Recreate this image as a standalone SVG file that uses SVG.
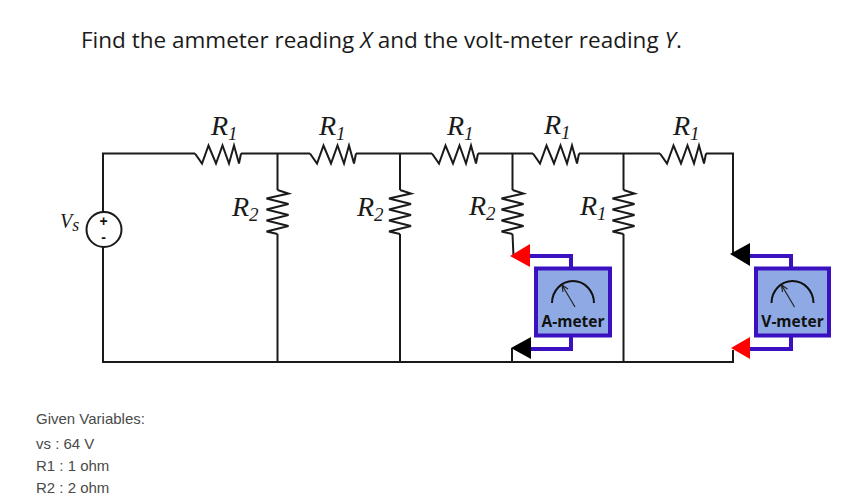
<svg xmlns="http://www.w3.org/2000/svg" xmlns:xlink="http://www.w3.org/1999/xlink" width="859" height="501" viewBox="0 0 859 501">
<style>
.w{fill:none;stroke:#1a1a1a;stroke-width:2}
.z{fill:none;stroke:#1a1a1a;stroke-width:2;stroke-linejoin:miter}
.title{font:22.5px "Open Sans",sans-serif;fill:#1a1a1a}
.var{font:15px "Liberation Sans",sans-serif;fill:#4a4a4a}
.lab{font:italic 28px "Liberation Serif",serif;fill:#1a1a1a}
.sub{font-size:19px}
.box{fill:#8ea9e3;stroke:#3a10c0;stroke-width:4}
.lead{fill:none;stroke:#3a10c0;stroke-width:4}
.gauge{fill:none;stroke:#111;stroke-width:2}
.needle{fill:none;stroke:#222;stroke-width:1.2}
.mt{font:bold 15.500px "Open Sans",sans-serif;fill:#111;text-anchor:middle}
.sym{font:bold 14px "Liberation Sans",sans-serif;fill:#111;text-anchor:middle}
</style>
<defs>
<path id="rh" class="z" d="M0 0L7 10L13.500 -8L21 10L27.500 -8L34 10L39 -8L44 10L46 0"/>
<path id="rv" class="z" d="M0 0L11 3.500L-11 8.500L11 14L-11 19.500L11 25L-11 30.500L11 36L-11 41.500L0 44"/>
<g id="gauge"><path class="gauge" d="M-21 36A21 22 0 0 1 21 36"/><path class="needle" d="M2 40L-11 18M-11 18L-10 25M-11 18L-5 22"/></g>
</defs>
<text class="title" x="81" y="48">Find the ammeter reading <tspan font-style="italic">X</tspan> and the volt-meter reading <tspan font-style="italic">Y</tspan>.</text>
<g id="connectors">
<path class="w" d="M103 212V153.500H195M241 153.500H310M356 153.500H432M478 153.500H533M579 153.500H660M706 153.500H733V254"/>
<path class="w" d="M103 247V362H733V350"/>
<path class="w" d="M277.500 153.500V190M277.500 234V362"/>
<path class="w" d="M400 153.500V190M400 234V362"/>
<path class="w" d="M512.500 153.500V190M512.500 234L513.500 256M512 348V362"/>
<path class="w" d="M623.500 153.500V190M623.500 234V362"/>
</g>
<g id="source"><circle cx="104" cy="229.500" r="17.500" fill="#fff" stroke="#1a1a1a" stroke-width="2"/><text class="sym" x="103.500" y="226">+</text><text class="sym" x="103.500" y="242">-</text><text class="lab" style="font-size:20px" x="60" y="228">V<tspan style="font-size:18px" dy="3">s</tspan></text></g>
<g id="r1a"><use xlink:href="#rh" href="#rh" x="195" y="153.500"/><text class="lab" x="211" y="135">R<tspan class="sub" dy="5">1</tspan></text></g>
<g id="r1b"><use xlink:href="#rh" href="#rh" x="310" y="153.500"/><text class="lab" x="319" y="135">R<tspan class="sub" dy="5">1</tspan></text></g>
<g id="r1c"><use xlink:href="#rh" href="#rh" x="432" y="153.500"/><text class="lab" x="447" y="135">R<tspan class="sub" dy="5">1</tspan></text></g>
<g id="r1d"><use xlink:href="#rh" href="#rh" x="533" y="153.500"/><text class="lab" x="544" y="134">R<tspan class="sub" dy="5">1</tspan></text></g>
<g id="r1e"><use xlink:href="#rh" href="#rh" x="660" y="153.500"/><text class="lab" x="673" y="135">R<tspan class="sub" dy="5">1</tspan></text></g>
<g id="r2a"><use xlink:href="#rv" href="#rv" x="277.500" y="190"/><text class="lab" x="232" y="216">R<tspan class="sub" dy="5">2</tspan></text></g>
<g id="r2b"><use xlink:href="#rv" href="#rv" x="400" y="190"/><text class="lab" x="357" y="216">R<tspan class="sub" dy="5">2</tspan></text></g>
<g id="r2c"><use xlink:href="#rv" href="#rv" x="512.500" y="190"/><text class="lab" x="469" y="215">R<tspan class="sub" dy="5">2</tspan></text></g>
<g id="r1f"><use xlink:href="#rv" href="#rv" x="623.500" y="190"/><text class="lab" x="580" y="215">R<tspan class="sub" dy="5">1</tspan></text></g>
<g id="ammeter">
<path class="lead" d="M530 256H571V267M530 349H571V337"/>
<rect class="box" x="536" y="268.500" width="74" height="67"/>
<use xlink:href="#gauge" href="#gauge" x="573" y="267"/>
<text class="mt" x="573" y="327">A-meter</text>
<polygon points="510,256 530,244 530,267" fill="#ff0000"/>
<polygon points="511,348 531,337 531,359" fill="#000"/>
</g>
<g id="voltmeter">
<path class="lead" d="M750 256H791V267M750 349H791V337"/>
<rect class="box" x="756" y="268.500" width="73" height="67"/>
<use xlink:href="#gauge" href="#gauge" x="792.500" y="267"/>
<text class="mt" x="792.500" y="327">V-meter</text>
<polygon points="730,254 750,243 750,266" fill="#000"/>
<polygon points="731,348 750,337 750,359" fill="#ff0000"/>
</g>
<g id="given">
<text class="var" x="36" y="424">Given Variables:</text>
<text class="var" x="36" y="449">vs : 64 V</text>
<text class="var" x="36" y="471">R1 : 1 ohm</text>
<text class="var" x="36" y="493">R2 : 2 ohm</text>
</g>
</svg>
